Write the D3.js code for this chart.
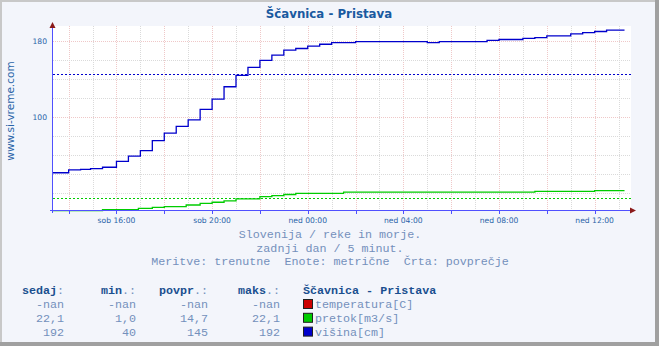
<!DOCTYPE html>
<html><head><meta charset="utf-8">
<script src="https://cdn.jsdelivr.net/npm/d3@7/dist/d3.min.js"></script>
<style>
html,body{margin:0;padding:0;background:#fff;}
svg{display:block;}
</style></head>
<body><svg id="c" width="659" height="346"></svg>
<script>
// ---- data ----
const title = "Ščavnica - Pristava";
const visinaTimes = ["sob 13:20","sob 14:00","sob 14:30","sob 14:55","sob 15:25","sob 16:00","sob 16:30","sob 17:00","sob 17:30","sob 18:00","sob 18:30","sob 19:00","sob 19:30","sob 20:00","sob 20:30","sob 21:00","sob 21:30","sob 22:00","sob 22:30","sob 23:00","sob 23:30","ned 00:00","ned 00:30","ned 01:00","ned 02:00","ned 05:00","ned 05:30","ned 07:30","ned 08:00","ned 09:00","ned 09:30","ned 10:00","ned 11:00","ned 11:30","ned 12:00","ned 12:30","ned 13:15"];
const visinaValues = [41,44,44.6,45.3,46.8,53,58.5,64.5,75,83,90,97,108,119,132,144,152.5,160,165.5,170.7,172.5,175,177,178.6,179.7,178.6,179.7,181,182,183.2,184,185.9,188,189.3,190.5,192,192];
const pretokTimes = ["sob 13:20","sob 15:25","sob 16:55","sob 17:30","sob 18:00","sob 18:55","sob 19:30","sob 20:00","sob 20:30","sob 21:00","sob 22:00","sob 22:30","sob 23:00","sob 23:30","ned 01:30","ned 09:30","ned 12:00","ned 13:15"];
const pretokValues = [1.0,2.0,3.4,4.4,5.1,6.9,8.7,9.8,11.2,13.3,15.8,16.8,18.0,19.2,20.5,21.3,22.1,22.1];
const averages = {visina:145, pretok:14.7};
const yTickLabels = [100,180];
const yGridValues = [20,40,60,80,100,120,140,160,180];
const xTickLabels = ["sob 16:00","sob 20:00","ned 00:00","ned 04:00","ned 08:00","ned 12:00"];
const infoLines = ["Slovenija / reke in morje.","zadnji dan / 5 minut.","Meritve: trenutne  Enote: metrične  Črta: povprečje"];
const tableHeaders = [["sedaj",":"],["min",".:"],["povpr",".:"],["maks",".:"]];
const tableRows = [["-nan","-nan","-nan","-nan"],["22,1","1,0","14,7","22,1"],["192","40","145","192"]];
const legendLabels = ["temperatura[C]","pretok[m3/s]","višina[cm]"];
const legendColors = ["#cc0000","#00cc00","#0000cc"];

// ---- helpers ----
function parseT(s){
  const [day, hm] = s.split(" ");
  const [h, m] = hm.split(":").map(Number);
  return new Date(2024,0, day==="sob"?6:7, h, m);
}
const svg = d3.select("#c");
const W=659,H=346;
// background + frame
svg.append("rect").attr("width",W).attr("height",H).attr("fill","#f3f5fb");
svg.append("rect").attr("x",1).attr("y",1).attr("width",W-2).attr("height",H-2).attr("fill","none").attr("stroke","#c8c8c8").attr("stroke-width",2);
svg.append("rect").attr("x",W-4).attr("y",0).attr("width",4).attr("height",H).attr("fill","#a0a0a0");
svg.append("rect").attr("x",0).attr("y",H-4).attr("width",W).attr("height",4).attr("fill","#a0a0a0");

const x = d3.scaleTime().domain([parseT("sob 13:20"), parseT("ned 13:30")]).range([52.7, 630.5]);
const y = d3.scaleLinear().domain([0,195]).range([211.5, 211.5-195*0.945]);

// plot area
svg.append("rect").attr("x",53).attr("y",26).attr("width",578).attr("height",185).attr("fill","#ffffff");

// vertical grid every hour
const hours = d3.timeHour.range(parseT("sob 14:00"), parseT("ned 13:30"));
svg.append("g").selectAll("line").data(hours).join("line")
  .attr("x1",d=>Math.round(x(d))+0.5).attr("x2",d=>Math.round(x(d))+0.5)
  .attr("y1",26).attr("y2",211)
  .attr("stroke",d=>d.getHours()%2===0?"#efc8c8":"#dadada")
  .attr("stroke-dasharray","1,1");
// horizontal grid
svg.append("g").selectAll("line").data(yGridValues).join("line")
  .attr("x1",53).attr("x2",631)
  .attr("y1",d=>Math.round(y(d))+0.5).attr("y2",d=>Math.round(y(d))+0.5)
  .attr("stroke",d=>yTickLabels.includes(d)?"#efc8c8":"#dadada")
  .attr("stroke-dasharray","1,1");

// average lines
svg.append("line").attr("x1",53).attr("x2",631)
  .attr("y1",Math.round(y(averages.visina))+0.5).attr("y2",Math.round(y(averages.visina))+0.5)
  .attr("stroke","#0000cc").attr("stroke-dasharray","2,2");
svg.append("line").attr("x1",53).attr("x2",631)
  .attr("y1",Math.round(y(averages.pretok))+0.5).attr("y2",Math.round(y(averages.pretok))+0.5)
  .attr("stroke","#00cc00").attr("stroke-dasharray","2,2");

// series
const line = d3.line().x(d=>x(d[0])).y(d=>y(d[1])).curve(d3.curveStepAfter);
const pretokData = pretokTimes.map((t,i)=>[parseT(t),pretokValues[i]]);
const visinaData = visinaTimes.map((t,i)=>[parseT(t),visinaValues[i]]);
svg.append("path").datum(pretokData).attr("d",line).attr("fill","none").attr("stroke","#00cc00").attr("stroke-width",1.3);
svg.append("path").datum(visinaData).attr("d",line).attr("fill","none").attr("stroke","#0000cc").attr("stroke-width",1.3);

// axes
svg.append("line").attr("x1",52.5).attr("x2",52.5).attr("y1",27).attr("y2",213).attr("stroke","#5050ff").attr("stroke-width",1);
svg.append("line").attr("x1",50).attr("x2",630).attr("y1",210.5).attr("y2",210.5).attr("stroke","#5050ff").attr("stroke-width",1);
svg.append("path").attr("d","M49.5,28 L55.5,28 L52.5,22 Z").attr("fill","#8b1a1a");
svg.append("path").attr("d","M630,207.5 L630,213.5 L636,210.5 Z").attr("fill","#8b1a1a");
// x ticks
svg.append("g").selectAll("line").data(hours.filter(d=>d.getHours()%2===0)).join("line")
  .attr("x1",d=>Math.round(x(d))+0.5).attr("x2",d=>Math.round(x(d))+0.5)
  .attr("y1",211).attr("y2",214).attr("stroke","#5050ff");
// x labels
svg.append("g").selectAll("text").data(xTickLabels).join("text")
  .attr("x",d=>x(parseT(d))).attr("y",222.5).attr("text-anchor","middle")
  .attr("font-family","DejaVu Sans, Verdana, sans-serif").attr("font-size",7.6)
  .attr("fill","#2a64a8").text(d=>d);
// y labels
svg.append("g").selectAll("text").data(yTickLabels).join("text")
  .attr("x",47).attr("y",d=>y(d)+3).attr("text-anchor","end")
  .attr("font-family","DejaVu Sans, Verdana, sans-serif").attr("font-size",7.6)
  .attr("fill","#2a64a8").text(d=>d);

// title
svg.append("text").attr("x",329).attr("y",18).attr("text-anchor","middle")
  .attr("font-family","DejaVu Sans, Verdana, sans-serif").attr("font-weight","bold").attr("font-size",11.8)
  .attr("fill","#1a5aa0").text(title);
// watermark
svg.append("text").attr("transform","translate(14,111) rotate(-90)").attr("text-anchor","middle")
  .attr("font-family","DejaVu Sans, Verdana, sans-serif").attr("font-size",10.5)
  .attr("fill","#2a64a8").text("www.si-vreme.com");

// info lines
const mono = "Liberation Mono, Courier New, monospace";
svg.append("g").selectAll("text").data(infoLines).join("text")
  .attr("x",330).attr("y",(d,i)=>238+i*13.5).attr("text-anchor","middle")
  .attr("font-family",mono).attr("font-size",11.7).attr("fill","#7490bc")
  .attr("xml:space","preserve").style("white-space","pre").text(d=>d);

// table
const colRight = [64,136,208,280];
const hdr = svg.append("g");
tableHeaders.forEach((h,i)=>{
  const t = hdr.append("text").attr("x",colRight[i]).attr("y",294).attr("text-anchor","end")
    .attr("font-family",mono).attr("font-size",11.7);
  t.append("tspan").attr("font-weight","bold").attr("fill","#1a4f8f").text(h[0]);
  t.append("tspan").attr("fill","#7490bc").text(h[1]);
});
tableRows.forEach((row,r)=>{
  row.forEach((v,i)=>{
    svg.append("text").attr("x",colRight[i]).attr("y",308+r*13.8).attr("text-anchor","end")
      .attr("font-family",mono).attr("font-size",11.7).attr("fill","#7490bc").text(v);
  });
});
// legend
svg.append("text").attr("x",303).attr("y",294).attr("font-family",mono).attr("font-weight","bold")
  .attr("font-size",11.7).attr("fill","#1a4f8f").text(title);
legendLabels.forEach((l,i)=>{
  svg.append("rect").attr("x",303.5).attr("y",299.5+i*13.8).attr("width",9).attr("height",9)
    .attr("fill",legendColors[i]).attr("stroke","#202020").attr("stroke-width",1);
  svg.append("text").attr("x",315).attr("y",308+i*13.8).attr("font-family",mono)
    .attr("font-size",11.7).attr("fill","#7490bc").text(l);
});
</script></body></html>
